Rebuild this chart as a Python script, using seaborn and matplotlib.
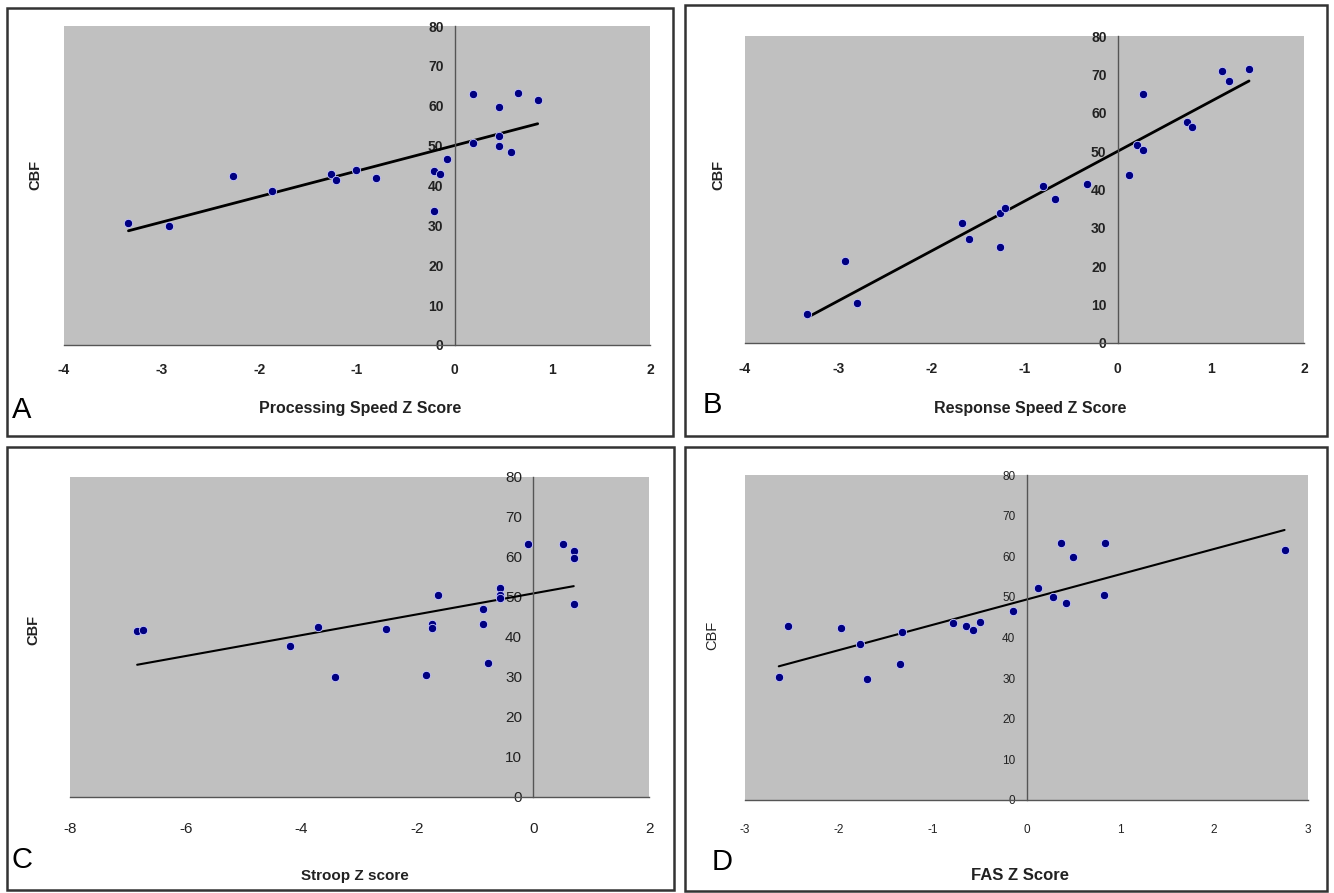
import numpy as np
import pandas as pd
import matplotlib
matplotlib.use("Agg")
import matplotlib.pyplot as plt
from matplotlib.patches import Rectangle
import seaborn as sns

# ---- data ----
proc_z = [-3.34, -2.93, -2.27, -1.87, -1.27, -1.22, -1.01, -0.81, -0.21, -0.15,
          -0.08, -0.21, 0.19, 0.19, 0.45, 0.45, 0.45, 0.58, 0.65, 0.85]
proc_cbf = [30.5, 29.9, 42.4, 38.5, 43.0, 41.4, 43.8, 41.8, 43.6, 43.0,
            46.6, 33.5, 62.9, 50.7, 59.7, 52.5, 50.0, 48.4, 63.2, 61.4]

resp_z = [-3.33, -2.93, -2.80, -1.67, -1.60, -1.26, -1.26, -1.21, -0.80, -0.67,
          -0.33, 0.12, 0.21, 0.27, 0.27, 0.74, 0.80, 1.12, 1.20, 1.41]
resp_cbf = [7.5, 21.3, 10.3, 31.4, 27.2, 24.9, 33.9, 35.3, 41.0, 37.4,
            41.4, 43.8, 51.5, 50.3, 64.9, 57.7, 56.4, 71.0, 68.3, 71.3]

stroop_z = [-6.84, -6.74, -4.20, -3.71, -3.43, -2.54, -1.86, -1.75, -1.75, -1.65,
            -0.87, -0.87, -0.78, -0.58, -0.58, -0.58, -0.09, 0.51, 0.70, 0.70, 0.70]
stroop_cbf = [41.4, 41.8, 37.8, 42.4, 30.0, 42.0, 30.4, 43.3, 42.3, 50.6,
              46.9, 43.2, 33.6, 52.3, 50.6, 49.7, 63.2, 63.2, 61.5, 59.8, 48.3]

fas_z = [-2.64, -2.54, -1.98, -1.77, -1.70, -1.35, -1.33, -0.78, -0.65, -0.57,
         -0.50, -0.14, 0.12, 0.28, 0.37, 0.42, 0.50, 0.83, 0.84, 2.75]
fas_cbf = [30.4, 42.9, 42.4, 38.3, 29.8, 33.4, 41.3, 43.5, 42.8, 41.8,
           43.8, 46.6, 52.1, 49.9, 63.2, 48.4, 59.9, 50.4, 63.2, 61.5]

panels = [
    dict(x=proc_z, y=proc_cbf, xlabel="Processing Speed Z Score", letter="A",
         xlim=(-4, 2), xticks=[-4, -3, -2, -1, 0, 1, 2]),
    dict(x=resp_z, y=resp_cbf, xlabel="Response Speed Z Score", letter="B",
         xlim=(-4, 2), xticks=[-4, -3, -2, -1, 0, 1, 2]),
    dict(x=stroop_z, y=stroop_cbf, xlabel="Stroop Z score", letter="C",
         xlim=(-8, 2), xticks=[-8, -6, -4, -2, 0, 2]),
    dict(x=fas_z, y=fas_cbf, xlabel="FAS Z Score", letter="D",
         xlim=(-3, 3), xticks=[-3, -2, -1, 0, 1, 2, 3]),
]

W, H = 1334, 893
sns.set_style("white")
plt.rcParams["font.family"] = ["Liberation Sans", "DejaVu Sans"]
plt.rcParams["axes.unicode_minus"] = False

fig = plt.figure(figsize=(W / 100, H / 100), dpi=100)


def fx(px):
    return px / W


def fy(py):
    return 1 - py / H


# layout in pixels: frame box, axes box, label positions
layout = [
    dict(frame=(7, 8, 673, 436), ax=(64, 26, 650, 345), xl=(360, 408), yl=(35, 175),
         let=(22, 410), tick_w="bold", tick_fs=10, tick_family=None, lw=2.0,
         ylab_w="bold", xl_fs=11.5, pad=9),
    dict(frame=(685, 5, 1327, 436), ax=(745, 36, 1304, 343), xl=(1030, 408), yl=(718, 175),
         let=(712, 405), tick_w="bold", tick_fs=10, tick_family=None, lw=2.0,
         ylab_w="bold", xl_fs=11.5, pad=10),
    dict(frame=(7, 447, 674, 890), ax=(70, 477, 649, 797), xl=(355, 876), yl=(33, 630),
         let=(22, 860), tick_w="normal", tick_fs=11, tick_family=None, lw=1.5,
         ylab_w="bold", xl_fs=11, pad=14),
    dict(frame=(685, 447, 1327, 891), ax=(745, 475, 1308, 800), xl=(1020, 876), yl=(712, 635),
         let=(722, 862), tick_w="normal", tick_fs=8.5, tick_family="Liberation Sans Narrow",
         lw=1.5, ylab_w="normal", xl_fs=12, pad=13),
]

for p, L in zip(panels, layout):
    x0, y0, x1, y1 = L["frame"]
    fig.patches.append(Rectangle((fx(x0), fy(y1)), fx(x1) - fx(x0), fy(y0) - fy(y1),
                                 transform=fig.transFigure, fill=False,
                                 edgecolor="#333333", linewidth=1.8))
    a0, b0, a1, b1 = L["ax"]
    ax = fig.add_axes([fx(a0), fy(b1), fx(a1) - fx(a0), fy(b0) - fy(b1)])
    ax.set_facecolor("#c0c0c0")

    df = pd.DataFrame({"z": p["x"], "cbf": p["y"]})
    sns.regplot(data=df, x="z", y="cbf", ax=ax, ci=None, scatter=False,
                line_kws=dict(color="black", lw=L["lw"]))
    sns.scatterplot(data=df, x="z", y="cbf", ax=ax, color="#000080",
                    s=36, edgecolor="#c8c8ff", linewidth=0.6, zorder=3)

    ax.set_xlim(*p["xlim"])
    ax.set_ylim(0, 80)
    ax.set_xticks(p["xticks"])
    ax.set_yticks(range(0, 90, 10))
    ax.set_xlabel("")
    ax.set_ylabel("")
    for s in ["top", "right"]:
        ax.spines[s].set_visible(False)
    ax.spines["left"].set_position(("data", 0))
    ax.spines["left"].set_color("#555555")
    ax.spines["bottom"].set_color("#555555")
    ax.spines["left"].set_linewidth(1)
    ax.spines["bottom"].set_linewidth(1)
    ax.tick_params(axis="y", direction="out", length=6, width=1, color="#555555", pad=2)
    ax.tick_params(axis="x", direction="inout", length=8, width=1, color="#555555",
                   pad=L["pad"])
    for t in ax.get_xticklabels() + ax.get_yticklabels():
        t.set_fontweight(L["tick_w"])
        t.set_fontsize(L["tick_fs"])
        t.set_color("#222222")
        if L["tick_family"]:
            t.set_family([L["tick_family"], "Liberation Sans"])

    fig.text(fx(L["xl"][0]), fy(L["xl"][1]), p["xlabel"], ha="center", va="center",
             fontsize=L["xl_fs"], fontweight="bold", color="#222222")
    fig.text(fx(L["yl"][0]), fy(L["yl"][1]), "CBF", ha="center", va="center",
             rotation=90, fontsize=10.5, fontweight=L["ylab_w"], color="#222222")
    fig.text(fx(L["let"][0]), fy(L["let"][1]), p["letter"], ha="center", va="center",
             fontsize=21, color="black")

fig.savefig("out.png", dpi=100, facecolor="white")
